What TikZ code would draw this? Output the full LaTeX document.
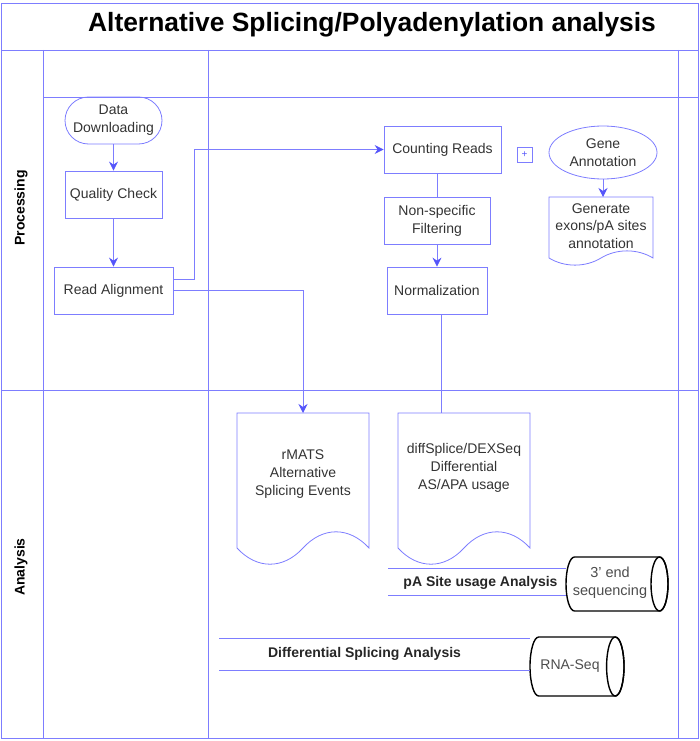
\documentclass[tikz,border=0pt]{standalone}
\usepackage{fontspec}
\setmainfont{Liberation Sans}
\usetikzlibrary{arrows.meta,shapes.geometric,calc}
\definecolor{lb}{RGB}{125,125,255}
\definecolor{ab}{RGB}{85,85,250}
\definecolor{tx}{RGB}{51,51,51}
\begin{document}
\begin{tikzpicture}[x=1pt,y=-1pt,
  fr/.style={draw=lb, line width=0.8pt},
  ln/.style={draw=lb, line width=0.8pt},
  arr/.style={draw=lb, line width=0.8pt, -{Stealth[length=9pt,width=9pt,inset=3pt,color=ab]}},
  box/.style={draw=lb, line width=0.8pt, rectangle, inner sep=0pt, text=tx,
    font=\fontsize{14}{18}\selectfont, align=center},
  txt/.style={text=tx, inner sep=0pt, font=\fontsize{14}{18}\selectfont, align=center},
  ghost/.style={inner sep=0pt, outer sep=0pt},
  cyl/.style={draw=black, line width=1.4pt},
  lane/.style={font=\bfseries\fontsize{14}{16}\selectfont, rotate=90, inner sep=0pt},
  blab/.style={font=\bfseries\fontsize{14}{16}\selectfont, text=black!85, inner sep=0pt}
]
\useasboundingbox (0,0) rectangle (700,741);
% frame
\draw[fr] (1.5,3) rectangle (698.5,738);
\draw[fr] (1.5,50) -- (698.5,50);
\draw[fr] (43.5,50) -- (43.5,738);
\draw[fr] (208,50) -- (208,738);
\draw[fr] (678,50) -- (678,738);
\draw[fr] (43.5,97) -- (698.5,97);
\draw[fr] (1.5,390) -- (698.5,390);
% title and lane labels
\node[font=\bfseries\fontsize{26.4}{30}\selectfont, inner sep=0pt] (title) at (372,25) {Alternative Splicing/Polyadenylation analysis};
\node[lane] (proc) at (21,208) {Processing};
\node[lane] (anal) at (21,567) {Analysis};
% processing nodes
\node[box, rounded corners=23.5pt, minimum width=97pt, minimum height=47pt] (dd) at (113.5,120.5) {Data\\Downloading};
\node[box, minimum width=97pt, minimum height=47pt] (qc) at (113.5,194.5) {Quality Check};
\node[box, minimum width=119pt, minimum height=47pt] (ra) at (113.5,290.5) {Read Alignment};
\node[box, minimum width=117pt, minimum height=47pt] (cr) at (442.5,149.5) {Counting Reads};
\node[box, minimum width=106pt, minimum height=47pt] (nf) at (437,220.5) {Non-specific\\Filtering};
\node[box, minimum width=100pt, minimum height=47pt] (nm) at (437,290.5) {Normalization};
\node[box, minimum width=15pt, minimum height=15pt, text=ab, font=\fontsize{10}{10}\selectfont] (plus) at (524.5,154.5) {+};
\node[draw=lb, line width=0.8pt, ellipse, minimum width=108pt, minimum height=53pt, inner sep=0pt, text=tx,
  font=\fontsize{14}{18}\selectfont, align=center] (ga) at (603,152.5) {Gene\\Annotation};
% generate document
\node[ghost, minimum width=104pt, minimum height=61pt] (gen) at (601,227.5) {};
\draw[ln] (549,197) -- (653,197) -- (653,258) .. controls (637.4,248.5) and (616.6,248.5) .. (601,258)
  .. controls (585.4,267.5) and (564.6,267.5) .. (549,258) -- cycle;
\node[txt, font=\fontsize{14}{17.5}\selectfont] (gentxt) at (601,226) {Generate\\exons/pA sites\\annotation};
% analysis documents
\node[ghost, minimum width=132pt, minimum height=135pt] (rm) at (303,480.5) {};
\draw[ln] (237,413) -- (369,413) -- (369,548) .. controls (349.2,526.4) and (322.8,526.4) .. (303,548)
  .. controls (283.2,569.6) and (256.8,569.6) .. (237,548) -- cycle;
\node[txt] (rmtxt) at (303,474) {rMATS\\Alternative\\Splicing Events};
\node[ghost, minimum width=132pt, minimum height=135pt] (ds) at (464,480.5) {};
\draw[ln] (398,413) -- (530,413) -- (530,548) .. controls (510.2,526.4) and (483.8,526.4) .. (464,548)
  .. controls (444.2,569.6) and (417.8,569.6) .. (398,548) -- cycle;
\node[txt] (dstxt) at (464,468) {diffSplice/DEXSeq\\Differential\\AS/APA usage};
% cylinders
\node[ghost, minimum width=102pt, minimum height=54pt] (c1) at (617,584) {};
\draw[cyl] ([xshift=8.5pt]c1.north west) -- ([xshift=-8.5pt]c1.north east)
  arc[start angle=90,end angle=-90,x radius=8.5pt,y radius=27pt]
  -- ([xshift=8.5pt]c1.south west)
  arc[start angle=270,end angle=90,x radius=8.5pt,y radius=27pt] -- cycle;
\draw[cyl] ([xshift=-8.5pt]c1.east) ellipse[x radius=8.5pt,y radius=27pt];
\node[txt, text=black!70, font=\fontsize{14.5}{18.5}\selectfont] (c1txt) at (610,582.5) {3’ end\\sequencing};
\node[ghost, minimum width=94pt, minimum height=59pt] (c2) at (577,666.5) {};
\draw[cyl] ([xshift=8.7pt]c2.north west) -- ([xshift=-8.7pt]c2.north east)
  arc[start angle=90,end angle=-90,x radius=8.7pt,y radius=29.5pt]
  -- ([xshift=8.7pt]c2.south west)
  arc[start angle=270,end angle=90,x radius=8.7pt,y radius=29.5pt] -- cycle;
\draw[cyl] ([xshift=-8.7pt]c2.east) ellipse[x radius=8.7pt,y radius=29.5pt];
\node[txt, text=black!70] (c2txt) at (570,666) {RNA-Seq};
% lane lines and labels
\coordinate (pa1) at (388,568);
\coordinate (pa2) at (388,595.5);
\draw[ln] (pa1) -- (pa1 -| c1.west);
\draw[ln] (pa2) -- (pa2 -| c1.west);
\node[blab] (palab) at (480.5,583) {pA Site usage Analysis};
\coordinate (ds1) at (219,638);
\coordinate (ds2) at (219,670);
\draw[ln] (ds1) -- (ds1 -| c2.west);
\draw[ln] (ds2) -- (ds2 -| c2.west);
\node[blab] (dslab) at (364.5,654) {Differential Splicing Analysis};
% connectors
\coordinate (bend) at (194,149.5);
\draw[arr] (dd) -- (qc);
\draw[arr] (qc) -- (ra);
\draw[arr] ([yshift=11.5pt]ra.east) -| (bend) -- (cr.west);
\draw[arr] (ra.east) -| (rm.north);
\draw[ln] (nf.north) -- (nf.north |- cr.south);
\draw[arr] (nf) -- (nm);
\draw[ln] ([xshift=4pt]nm.south) -- ([xshift=4pt]nm.south |- ds.north);
\draw[arr] (ga.south) -- (ga.south |- gen.north);
\end{tikzpicture}
\end{document}
